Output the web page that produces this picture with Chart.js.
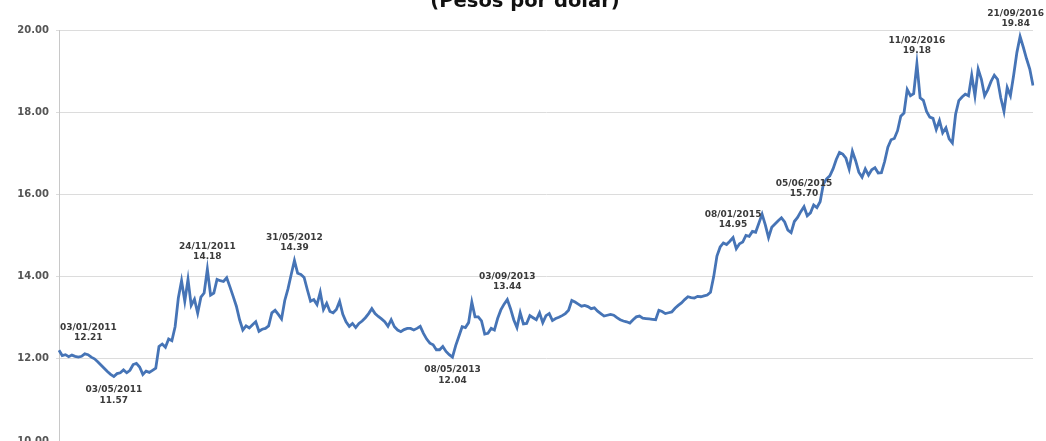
<!DOCTYPE html>
<html>
<head>
<meta charset="utf-8">
<script src="https://cdn.jsdelivr.net/npm/chart.js@4.4.1/dist/chart.umd.min.js"></script>
<style>
  html, body { margin: 0; padding: 0; background: #fff; overflow: hidden; }
  #wrap { position: absolute; left: 0; top: -10px; width: 1046px; height: 470px; }
</style>
</head>
<body>
<div id="wrap"><canvas id="fxChart"></canvas></div>
<script>
// Weekly exchange rate (pesos per dollar), one value per week from 03/01/2011
const values2011 = [12.21, 12.08, 12.10, 12.05, 12.09, 12.06, 12.04, 12.06, 12.12, 12.10,
    12.04, 12.00, 11.93, 11.85, 11.77, 11.69, 11.62, 11.57, 11.64, 11.66,
    11.73, 11.66, 11.72, 11.86, 11.89, 11.80, 11.62, 11.70, 11.67, 11.72,
    11.77, 12.30, 12.36, 12.28, 12.48, 12.44, 12.78, 13.48, 13.90, 13.40,
    13.93, 13.30, 13.45, 13.11, 13.50, 13.60, 14.18, 13.55, 13.60, 13.93,
    13.90, 13.88];
const values2012 = [13.97, 13.75, 13.52, 13.28, 12.95, 12.70, 12.80, 12.75,
    12.83, 12.90, 12.67, 12.72, 12.74, 12.80, 13.12, 13.18, 13.08, 12.97,
    13.42, 13.70, 14.05, 14.39, 14.08, 14.05, 13.98, 13.68, 13.40, 13.44,
    13.32, 13.62, 13.20, 13.35, 13.15, 13.12, 13.20, 13.40, 13.08, 12.90,
    12.79, 12.86, 12.76, 12.86, 12.92, 13.00, 13.10, 13.22, 13.10, 13.03,
    12.97, 12.90, 12.79, 12.95];
const values2013 = [12.78, 12.70, 12.66, 12.71, 12.74, 12.74,
    12.70, 12.74, 12.79, 12.62, 12.48, 12.38, 12.34, 12.22, 12.22, 12.30,
    12.18, 12.10, 12.04, 12.32, 12.55, 12.78, 12.76, 12.88, 13.38, 13.02,
    13.02, 12.92, 12.60, 12.62, 12.74, 12.70, 12.98, 13.19, 13.33, 13.44,
    13.22, 12.95, 12.76, 13.12, 12.85, 12.86, 13.05, 13.00, 12.95, 13.12,
    12.88, 13.05, 13.10, 12.93, 12.98, 13.01];
const values2014 = [13.05, 13.10, 13.18, 13.42,
    13.38, 13.33, 13.28, 13.30, 13.27, 13.22, 13.24, 13.16, 13.10, 13.04,
    13.06, 13.08, 13.06, 13.00, 12.95, 12.92, 12.90, 12.87, 12.95, 13.02,
    13.04, 12.99, 12.98, 12.97, 12.96, 12.95, 13.18, 13.15, 13.10, 13.12,
    13.14, 13.23, 13.30, 13.36, 13.44, 13.51, 13.49, 13.48, 13.52, 13.51,
    13.53, 13.55, 13.62, 14.00, 14.50, 14.72, 14.82, 14.78];
const values2015 = [14.86, 14.95,
    14.68, 14.80, 14.84, 15.00, 14.98, 15.10, 15.08, 15.30, 15.52, 15.26,
    14.95, 15.20, 15.28, 15.36, 15.43, 15.33, 15.13, 15.07, 15.34, 15.44,
    15.58, 15.70, 15.48, 15.55, 15.74, 15.68, 15.82, 16.25, 16.38, 16.45,
    16.62, 16.85, 17.02, 16.98, 16.88, 16.62, 17.05, 16.82, 16.54, 16.42,
    16.62, 16.47, 16.60, 16.65, 16.52, 16.53, 16.80, 17.15, 17.33, 17.36,
    17.55];
const values2016 = [17.90, 17.98, 18.55, 18.40, 18.45, 19.18, 18.35, 18.29, 18.02,
    17.88, 17.85, 17.58, 17.80, 17.50, 17.62, 17.35, 17.25, 17.95, 18.28,
    18.37, 18.44, 18.40, 18.90, 18.40, 19.05, 18.80, 18.40, 18.55, 18.75,
    18.90, 18.80, 18.35, 18.02, 18.60, 18.40, 18.90, 19.45, 19.84, 19.58,
    19.30, 19.05, 18.65];

// Highlighted points
const noteDates = ['03/01/2011', '03/05/2011', '24/11/2011', '31/05/2012', '08/05/2013',
    '03/09/2013', '08/01/2015', '05/06/2015', '11/02/2016', '21/09/2016'];
const noteValues = ['12.21', '11.57', '14.18', '14.39', '12.04',
    '13.44', '14.95', '15.70', '19.18', '19.84'];
const notePlace = ['above', 'below', 'above', 'above', 'below',
    'above', 'above', 'above', 'above', 'above'];

const yTicks = [10, 12, 14, 16, 18, 20];
const chartTitle = '(Pesos por dólar)';

const rates = [].concat(values2011, values2012, values2013, values2014, values2015, values2016);

// Week labels starting Monday 03/01/2011
const startMs = Date.UTC(2011, 0, 3);
const DAY = 86400000;
function fmt(ms) {
    const d = new Date(ms);
    const p = n => String(n).padStart(2, '0');
    return p(d.getUTCDate()) + '/' + p(d.getUTCMonth() + 1) + '/' + d.getUTCFullYear();
}
const weekLabels = rates.map((_, i) => fmt(startMs + i * 7 * DAY));

function weekIndexOf(dateStr) {
    const [d, m, y] = dateStr.split('/').map(Number);
    return Math.round((Date.UTC(y, m - 1, d) - startMs) / (7 * DAY));
}

// Draws the date/value callouts next to the line
const notesPlugin = {
    id: 'notes',
    afterDatasetsDraw(chart) {
        const ctx = chart.ctx;
        const meta = chart.getDatasetMeta(0);
        ctx.save();
        ctx.font = 'bold 9px "DejaVu Sans"';
        ctx.fillStyle = '#3a3a3a';
        ctx.textAlign = 'center';
        ctx.textBaseline = 'middle';
        noteDates.forEach((dt, i) => {
            const pt = meta.data[weekIndexOf(dt)];
            if (!pt) return;
            const half = ctx.measureText(dt).width / 2;
            let x = Math.max(pt.x, chart.chartArea.left + 1 + half);
            x = Math.min(x, chart.width - 2 - half);
            const y = pt.y;
            if (notePlace[i] === 'above') {
                ctx.fillText(dt, x, y - 23);
                ctx.fillText(noteValues[i], x, y - 13);
            } else {
                ctx.fillText(dt, x, y + 13);
                ctx.fillText(noteValues[i], x, y + 24);
            }
        });
        ctx.restore();
    }
};

// Title sits partly above the top edge of the window
const titlePlugin = {
    id: 'topTitle',
    afterDraw(chart) {
        const ctx = chart.ctx;
        ctx.save();
        ctx.font = 'bold 19.5px "DejaVu Sans"';
        ctx.fillStyle = '#111';
        ctx.textAlign = 'center';
        ctx.textBaseline = 'alphabetic';
        ctx.fillText(chartTitle, 525, 17);
        ctx.restore();
    }
};

new Chart(document.getElementById('fxChart'), {
    type: 'line',
    data: {
        labels: weekLabels,
        datasets: [{
            data: rates,
            borderColor: '#4674b6',
            borderWidth: 2.8,
            pointRadius: 0,
            tension: 0,
            fill: false
        }]
    },
    options: {
        responsive: true,
        maintainAspectRatio: false,
        animation: false,
        layout: { padding: { top: 40, bottom: 19, left: 0, right: 13 } },
        plugins: {
            legend: { display: false },
            tooltip: { enabled: false },
            title: { display: false }
        },
        scales: {
            x: { display: false, offset: false },
            y: {
                min: 10,
                max: 20,
                afterFit(scale) { scale.width = 59; },
                afterBuildTicks(scale) { scale.ticks = yTicks.map(v => ({ value: v })); },
                ticks: {
                    callback: v => v.toFixed(2),
                    color: '#555',
                    font: { family: 'DejaVu Sans', size: 10, weight: 'bold' },
                    padding: 7
                },
                grid: { color: '#dcdcdc', lineWidth: 1, tickLength: 3 },
                border: { color: '#c8c8c8', width: 1 }
            }
        }
    },
    plugins: [notesPlugin, titlePlugin]
});
</script>
</body>
</html>
